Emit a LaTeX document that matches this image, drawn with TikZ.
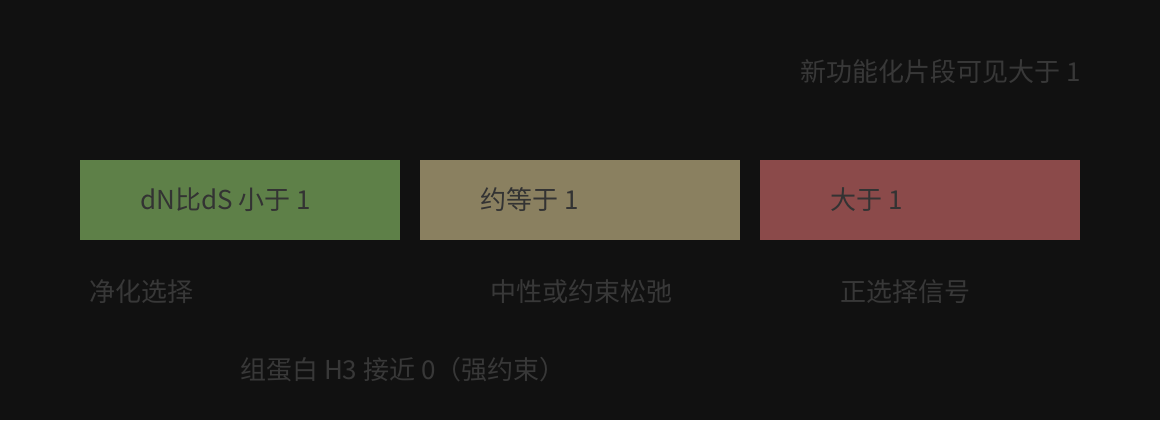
\documentclass[tikz,border=0pt]{standalone}
\usepackage{fontspec}
\setmainfont{Noto Sans CJK SC}
\definecolor{bg}{RGB}{17,17,17}
\definecolor{boxgreen}{RGB}{94,128,72}
\definecolor{boxtan}{RGB}{138,128,96}
\definecolor{boxred}{RGB}{139,74,74}
\definecolor{boxtext}{RGB}{51,51,51}
\definecolor{labeltext}{RGB}{56,56,56}
\tikzset{
  band/.style={fill=#1, draw=none, minimum width=320bp, minimum height=80bp, inner sep=0pt, anchor=north west},
  bandtext/.style={text=boxtext, inner sep=0pt, anchor=west, font=\fontsize{26bp}{30bp}\selectfont},
  note/.style={text=labeltext, inner sep=0pt, font=\fontsize{26bp}{30bp}\selectfont},
}
\begin{document}
\begin{tikzpicture}[x=1bp,y=-1bp]
\fill[bg] (0,0) rectangle (1160,420);
\useasboundingbox (0,0) rectangle (1160,420);
\node[band=boxgreen] (g) at (80,160) {};
\node[band=boxtan] (t) at (420,160) {};
\node[band=boxred] (r) at (760,160) {};
\node[bandtext] (gt) at (140,200) {dN比dS 小于 1};
\node[bandtext] (tt) at (480,200) {约等于 1};
\node[bandtext] (rt) at (830,200) {大于 1};
\node[note, anchor=east] (top) at (1081,72) {新功能化片段可见大于 1};
\node[note, anchor=west] (l1) at (89,292) {净化选择};
\node[note, anchor=west] (l2) at (490,292) {中性或约束松弛};
\node[note, anchor=west] (l3) at (840,292) {正选择信号};
\node[note, anchor=west] (l4) at (240,370) {组蛋白 H3 接近 0（强约束）};
\end{tikzpicture}
\end{document}
